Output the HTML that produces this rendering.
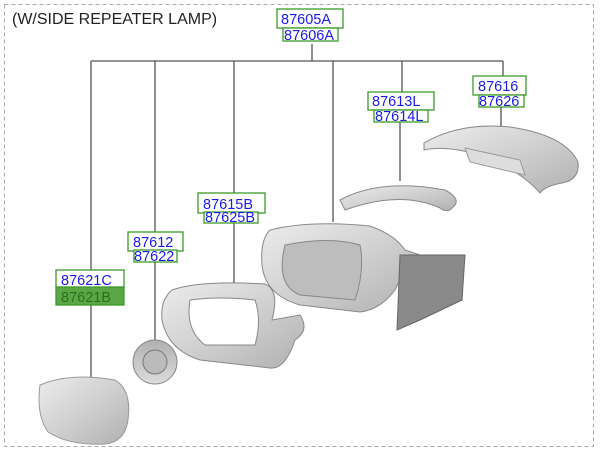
<!DOCTYPE html>
<html><head><meta charset="utf-8"><style>
html,body{margin:0;padding:0;background:#fff;width:600px;height:451px;overflow:hidden}
svg{display:block}
text{font-family:"Liberation Sans",sans-serif}
.l{font-size:14.5px;fill:#1a1aee}
</style></head><body>
<svg width="600" height="451" viewBox="0 0 600 451" xmlns="http://www.w3.org/2000/svg">
<defs>
<linearGradient id="g" x1="0" y1="0" x2="1" y2="1"><stop offset="0" stop-color="#ececec"/><stop offset="0.5" stop-color="#d0d0d0"/><stop offset="1" stop-color="#b0b0b0"/></linearGradient>
<linearGradient id="g2" x1="0" y1="0" x2="0" y2="1"><stop offset="0" stop-color="#b0b0b0"/><stop offset="1" stop-color="#dcdcdc"/></linearGradient>
</defs>
<rect x="4.5" y="4.5" width="589" height="442" fill="none" stroke="#aaa" stroke-dasharray="4,3"/>
<text x="12" y="24" font-size="16" fill="#222">(W/SIDE REPEATER LAMP)</text>
<g stroke="#555" stroke-width="1.3" fill="none">
<line x1="312" y1="44" x2="312" y2="61"/>
<line x1="91" y1="61" x2="503" y2="61"/>
<line x1="91" y1="61" x2="91" y2="270"/>
<line x1="91" y1="305" x2="91" y2="378"/>
<line x1="155" y1="61" x2="155" y2="232"/>
<line x1="155" y1="261" x2="155" y2="345"/>
<line x1="234" y1="61" x2="234" y2="193"/>
<line x1="234" y1="222" x2="234" y2="287"/>
<line x1="333" y1="61" x2="333" y2="222"/>
<line x1="402" y1="61" x2="402" y2="92"/>
<line x1="400" y1="122" x2="400" y2="181"/>
<line x1="503" y1="61" x2="503" y2="76"/>
<line x1="501" y1="107" x2="501" y2="128"/>
</g>
<path d="M40 385 Q70 372 115 380 Q132 390 128 420 Q125 442 105 444 Q70 446 48 432 Q36 415 40 385Z" fill="url(#g)" stroke="#999"/>
<circle cx="155" cy="362" r="22" fill="url(#g2)" stroke="#888"/>
<circle cx="155" cy="362" r="12" fill="#bbb" stroke="#777"/>
<path d="M172 290 Q200 280 265 284 Q280 290 272 320 L300 315 Q310 330 295 340 Q285 370 270 368 L200 360 Q168 350 162 320 Q160 300 172 290Z M190 300 Q220 296 255 300 Q262 320 255 345 L205 345 Q185 330 190 300Z" fill="url(#g)" fill-rule="evenodd" stroke="#888"/>
<path d="M270 230 Q310 220 370 226 Q395 235 405 250 L420 255 L405 270 L395 290 Q380 310 360 312 L300 305 Q265 295 262 265 Q260 240 270 230Z" fill="url(#g)" stroke="#888"/>
<path d="M285 245 Q330 236 360 245 Q365 270 355 300 L300 295 Q275 285 285 245Z" fill="#bdbdbd" stroke="#888"/>
<path d="M400 255 L465 255 L462 300 L420 320 L397 330 Z" fill="#8a8a8a" stroke="#666"/>
<path d="M340 200 Q380 178 445 190 Q460 198 455 205 L450 210 Q445 212 440 208 Q400 190 345 210 Z" fill="url(#g)" stroke="#888"/>
<path d="M424 143 Q460 122 510 127 Q565 135 578 162 Q580 180 562 183 Q545 186 540 193 Q520 170 480 155 Q445 145 424 150Z" fill="url(#g)" stroke="#888"/>
<path d="M465 148 L520 160 L525 175 L470 162Z" fill="#ddd" stroke="#999"/>
<g stroke="#3a9a2a" stroke-width="1.3">
<rect x="277" y="9" width="66" height="19" fill="#fff"/>
<rect x="283" y="28" width="55" height="13" fill="#fff"/>
<rect x="368" y="92" width="66" height="18" fill="#fff"/>
<rect x="374" y="110" width="54" height="12" fill="#fff"/>
<rect x="473" y="76" width="53" height="19" fill="#fff"/>
<rect x="479" y="95" width="45" height="12" fill="#fff"/>
<rect x="198" y="193" width="67" height="20" fill="#fff"/>
<rect x="204" y="212" width="54" height="11" fill="#fff"/>
<rect x="128" y="232" width="55" height="19" fill="#fff"/>
<rect x="134" y="250" width="43" height="12" fill="#fff"/>
<rect x="56" y="270" width="68" height="18" fill="#fff"/>
<rect x="56" y="287" width="68" height="18" fill="#5aa845"/>
</g>
<text class="l" x="281" y="24">87605A</text>
<text class="l" x="284" y="40">87606A</text>
<text class="l" x="372" y="106">87613L</text>
<text class="l" x="375" y="121">87614L</text>
<text class="l" x="478" y="91">87616</text>
<text class="l" x="479" y="106">87626</text>
<text class="l" x="203" y="209">87615B</text>
<text class="l" x="205" y="222">87625B</text>
<text class="l" x="133" y="247">87612</text>
<text class="l" x="134" y="261">87622</text>
<text class="l" x="61" y="285">87621C</text>
<text x="61" y="302" font-size="14.5" fill="#2f6e22">87621B</text>
</svg>
</body></html>
